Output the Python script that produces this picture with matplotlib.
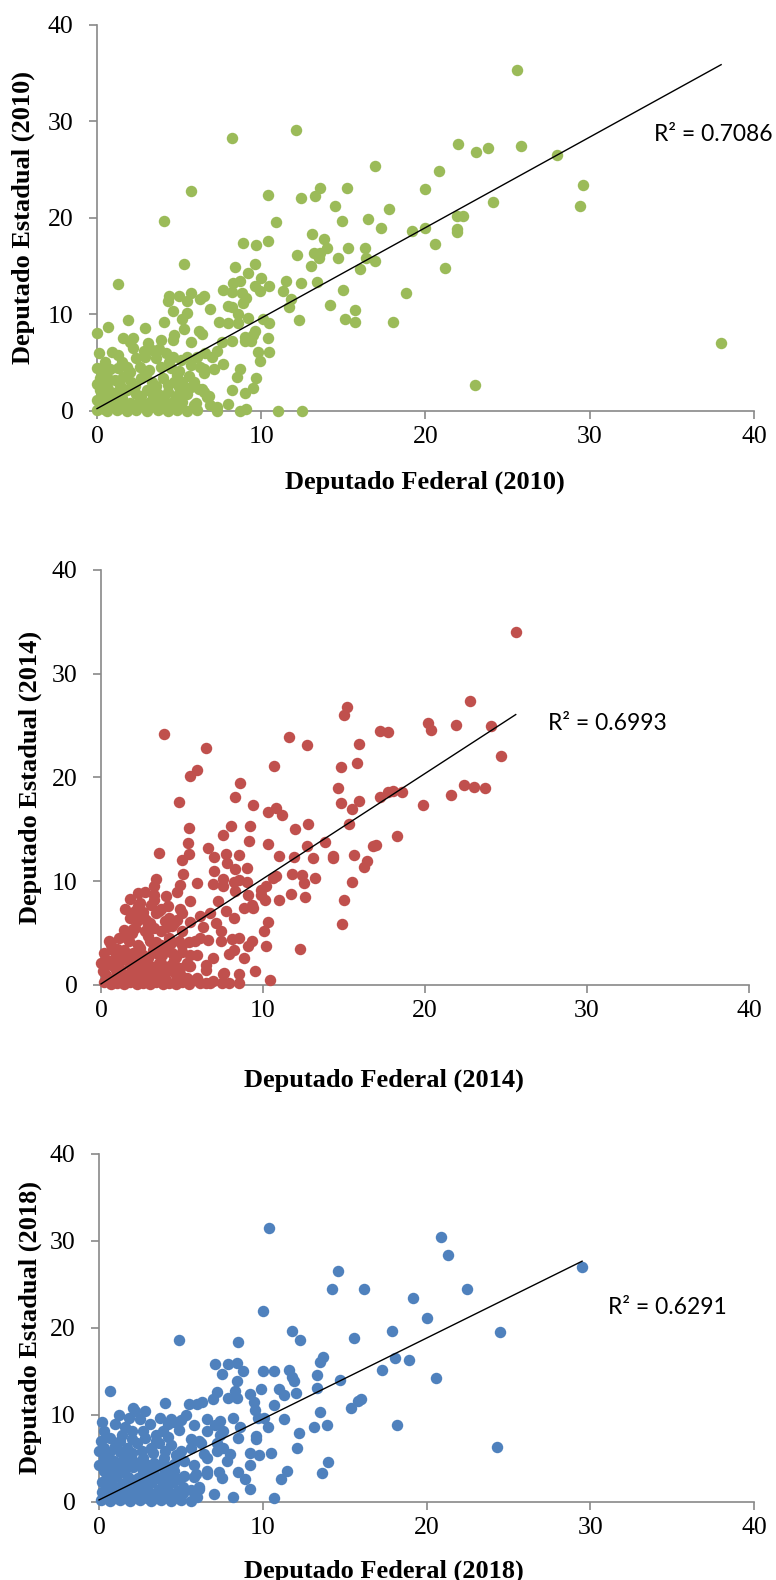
import matplotlib
matplotlib.use("Agg")
import matplotlib.pyplot as plt
import numpy as np

plt.rcParams["font.family"] = "Liberation Serif"

# vote shares per municipality: (deputado federal, deputado estadual)
pts_2010 = [
    (25.6, 35.3), (12.1, 29.1), (8.2, 28.3), (22.0, 27.7), (23.1, 26.8), (23.8, 27.2), (25.8, 27.5), (28.0, 26.5),
    (16.9, 25.4), (20.8, 24.9), (29.6, 23.4), (5.7, 22.8), (10.4, 22.4), (12.4, 22.1), (13.3, 22.3), (13.6, 23.1),
    (15.2, 23.1), (20.0, 23.0), (24.1, 21.7), (29.4, 21.2), (14.5, 21.2), (17.8, 20.9), (4.1, 19.7), (10.9, 19.6),
    (14.9, 19.7), (16.5, 19.9), (17.3, 19.0), (19.2, 18.7), (20.0, 19.0), (21.9, 20.2), (22.3, 20.2), (21.9, 18.9),
    (21.9, 18.5), (13.1, 18.3), (13.8, 17.8), (8.9, 17.4), (9.7, 17.2), (10.4, 17.6), (14.0, 16.9), (15.3, 16.9),
    (16.3, 16.9), (12.2, 16.2), (13.2, 16.4), (13.6, 16.4), (13.5, 15.8), (14.7, 15.9), (16.4, 15.9), (16.9, 15.5),
    (20.6, 17.3), (21.2, 14.8), (16.0, 14.7), (13.0, 15.0), (5.3, 15.2), (8.4, 14.9), (9.6, 15.2), (9.2, 14.3),
    (10.0, 13.8), (1.3, 13.2), (8.7, 13.5), (8.3, 13.3), (9.6, 13.0), (10.5, 13.0), (11.5, 13.5), (12.4, 13.3),
    (13.4, 13.4), (11.3, 12.4), (15.0, 12.5), (18.8, 12.2), (7.7, 12.5), (8.2, 12.3), (8.8, 12.2), (9.9, 12.4),
    (5.7, 12.2), (6.5, 11.9), (4.4, 11.9), (5.0, 11.9), (4.3, 11.4), (5.5, 11.4), (6.3, 11.6), (9.1, 11.7),
    (8.9, 11.2), (11.8, 11.6), (11.7, 10.8), (14.2, 11.0), (15.7, 10.5), (4.6, 10.4), (6.9, 10.6), (8.0, 10.9),
    (8.2, 10.8), (5.5, 10.1), (8.6, 10.0), (5.2, 9.5), (1.9, 9.4), (4.1, 9.2), (7.4, 9.2), (8.0, 9.1),
    (8.6, 9.1), (9.2, 9.6), (10.1, 9.5), (10.5, 9.1), (12.3, 9.4), (15.1, 9.5), (15.7, 9.2), (18.0, 9.2),
    (0.0, 8.1), (0.7, 8.75), (2.9, 8.6), (5.3, 8.5), (6.2, 8.3), (6.4, 8.0), (4.7, 7.9), (9.6, 8.3),
    (9.5, 7.9), (9.0, 7.7), (9.4, 7.3), (10.4, 7.6), (1.6, 7.6), (2.2, 7.6), (2.0, 7.1), (4.6, 7.4),
    (5.7, 7.1), (7.6, 7.1), (8.2, 7.2), (9.0, 7.3), (0.9, 6.1), (9.8, 6.1), (10.5, 6.1), (7.7, 4.9),
    (9.9, 5.2), (8.7, 4.3), (8.5, 3.5), (9.7, 3.4), (7.1, 4.3), (6.5, 4.3), (5.9, 3.0), (8.2, 2.2),
    (9.5, 2.4), (9.0, 1.9), (23.0, 2.7), (38.0, 7.0), (11.0, 0.0), (12.5, 0.0), (9.1, 0.2), (8.7, 0.0),
    (8.0, 0.7), (7.3, 0.0), (6.9, 0.6), (5.9, 0.6), (6.4, 2.3), (6.7, 1.4),
    (2.85, 6.2), (3.35, 6.3), (3.8, 6.4), (4.2, 6.0), (0.5, 5.1), (1.5, 5.1), (2.4, 5.5), (2.9, 5.6),
    (3.6, 5.5), (4.6, 5.6), (5.1, 5.3), (5.5, 5.6), (6.1, 5.6), (6.6, 6.0), (7.0, 5.6), (7.3, 6.2),
    (0.8, 4.3), (1.3, 4.4), (1.8, 4.6), (2.6, 4.6), (3.15, 4.25), (3.9, 4.6), (4.5, 4.4), (5.0, 4.1),
    (5.7, 4.8), (6.3, 4.6), (6.5, 3.9), (0.2, 3.4), (0.6, 3.55), (1.1, 3.2), (1.6, 3.55), (2.1, 3.0),
    (2.7, 3.4), (3.35, 3.0), (4.0, 3.4), (4.7, 3.0), (5.2, 3.0), (5.0, 2.5), (6.2, 2.3), (6.5, 2.0),
    (6.8, 1.5), (0.2, 2.2), (0.7, 2.3), (1.2, 2.0), (1.8, 2.2), (2.4, 1.8), (3.05, 2.2), (3.7, 1.8),
    (4.3, 2.0), (5.5, 1.8), (5.7, 2.5), (0.0, 1.1), (0.4, 1.3), (1.0, 0.9), (1.5, 1.3), (2.0, 0.8),
    (2.6, 1.1), (3.25, 0.9), (3.9, 1.1), (4.5, 0.8), (5.2, 0.9), (6.0, 0.8), (0.0, 0.1), (0.6, 0.0),
    (1.2, 0.1), (1.8, 0.0), (2.4, 0.1), (3.05, 0.0), (3.7, 0.1), (4.3, 0.0), (4.9, 0.1), (5.5, 0.0),
    (6.1, 0.1), (7.3, 0.4), (0.2, 0.6), (0.8, 0.4), (1.6, 0.5), (2.2, 0.4), (2.85, 0.6), (3.55, 0.4),
    (0.3, 4.5), (0.6, 2.9), (1.0, 1.6), (1.4, 2.7), (1.9, 3.9), (2.3, 2.6), (2.7, 1.5), (3.0, 3.8),
    (3.4, 1.5), (3.6, 2.6), (4.1, 1.5), (4.3, 2.7), (4.8, 1.6), (4.9, 3.7), (5.3, 2.0), (5.6, 3.6),
    (0.4, 0.2), (1.4, 0.3), (2.9, 0.3), (4.0, 0.3), (5.0, 0.5), (0.3, 1.8), (1.3, 5.8), (2.2, 6.5),
    (3.1, 7.0), (3.9, 7.4), (4.4, 5.1), (2.0, 4.0), (0.0, 2.8), (0.0, 4.5), (0.1, 6.0),
]

pts_2014 = [
    (25.6, 34.0), (15.2, 26.8), (15.0, 26.0), (22.8, 27.4), (3.9, 24.2), (6.5, 22.8), (11.6, 23.9), (12.7, 23.1),
    (15.9, 23.2), (17.2, 24.5), (17.7, 24.4), (20.2, 25.2), (20.4, 24.6), (21.9, 25.1), (24.1, 25.0), (24.7, 22.1),
    (14.8, 21.0), (15.8, 21.4), (10.7, 21.1), (5.9, 20.7), (5.5, 20.1), (8.6, 19.5), (14.6, 19.0), (22.4, 19.3),
    (23.0, 19.1), (23.7, 19.0), (21.6, 18.3), (17.7, 18.6), (18.0, 18.7), (18.6, 18.6), (17.2, 18.1), (15.9, 17.7),
    (14.8, 17.5), (15.5, 17.0), (19.9, 17.3), (4.8, 17.6), (8.3, 18.1), (9.4, 17.3), (10.3, 16.7), (10.8, 17.1),
    (11.2, 16.4), (15.3, 15.5), (5.4, 15.1), (8.0, 15.3), (9.2, 15.3), (12.0, 15.0), (12.8, 15.5), (7.5, 14.5),
    (5.35, 13.7), (9.15, 13.9), (10.3, 13.6), (13.8, 13.8), (12.7, 13.4), (16.8, 13.4), (17.0, 13.5), (18.3, 14.4),
    (3.6, 12.7), (6.6, 13.2), (5.45, 12.6), (5.0, 12.0), (7.0, 12.3), (7.7, 12.6), (8.5, 12.5), (7.8, 11.8),
    (11.0, 12.4), (11.9, 12.3), (13.1, 12.2), (14.3, 12.4), (14.3, 12.2), (15.6, 12.5), (16.4, 11.9), (16.25, 11.4),
    (5.05, 10.7), (7.0, 11.0), (8.3, 11.2), (9.0, 11.3), (11.8, 10.7), (12.4, 10.6), (13.2, 10.3), (12.5, 9.8),
    (15.5, 9.9), (3.4, 10.2), (3.3, 9.5), (4.9, 9.6), (5.9, 9.8), (6.9, 9.7), (7.5, 10.2), (7.5, 9.5),
    (8.2, 9.9), (8.5, 10.1), (9.0, 9.9), (8.3, 9.1), (9.1, 8.7), (9.9, 9.2), (10.2, 9.5), (10.6, 10.3),
    (10.8, 10.5), (9.9, 8.7), (10.1, 8.2), (11.0, 8.2), (11.7, 8.8), (12.6, 8.5), (15.0, 8.2), (14.9, 5.9),
    (2.3, 8.9), (2.7, 9.0), (3.3, 8.7), (1.8, 8.3), (2.4, 7.9), (4.7, 9.0), (5.5, 8.1), (7.2, 8.1),
    (1.5, 7.3), (2.1, 7.1), (3.1, 7.7), (3.7, 7.3), (4.15, 7.6), (4.9, 7.3), (1.8, 6.5), (2.6, 6.6),
    (3.4, 6.9), (4.2, 6.5), (5.0, 6.9), (6.1, 6.6), (6.7, 6.9), (7.7, 7.1), (8.2, 6.5), (8.8, 7.4),
    (9.4, 7.4), (9.3, 7.7), (10.3, 6.1), (10.05, 5.2), (2.1, 5.5), (2.9, 5.8), (3.7, 5.2), (4.5, 6.0),
    (5.5, 6.1), (6.3, 5.6), (7.1, 6.0), (7.4, 5.2), (8.1, 4.4), (8.5, 4.5), (9.3, 4.2), (9.05, 3.8),
    (10.2, 3.8), (8.2, 3.4), (8.8, 2.6), (7.9, 3.0), (12.3, 3.45), (9.5, 1.3), (10.4, 0.5), (8.5, 1.1),
    (7.6, 1.2), (6.9, 2.6), (6.5, 1.45), (5.9, 2.9), (5.8, 0.5), (6.5, 0.15), (6.9, 0.4), (7.45, 0.15),
    (7.9, 0.15), (8.5, 0.15), (0.5, 4.2), (0.2, 3.1), (1.1, 4.5), (1.0, 3.5), (1.7, 4.2), (2.3, 3.9),
    (3.0, 4.2), (3.7, 3.9), (4.3, 4.0), (5.0, 3.9), (5.8, 4.2), (6.6, 4.35), (7.4, 4.2), (0.5, 2.3),
    (1.3, 2.6), (2.1, 2.3), (2.9, 2.6), (3.7, 2.1), (4.5, 2.4), (5.3, 2.1), (0.1, 1.3), (0.9, 1.45),
    (1.7, 1.1), (2.5, 1.45), (3.3, 1.1), (4.1, 1.35), (4.9, 1.1), (0.2, 0.3), (1.0, 0.15), (1.8, 0.25),
    (2.6, 0.15), (3.4, 0.25), (4.2, 0.15), (5.0, 0.25), (5.4, 1.8), (1.4, 5.3), (0.75, 3.4), (3.4, 3.1),
    (2.6, 7.0), (3.6, 7.1), (2.2, 6.2), (2.8, 6.3), (3.95, 6.2), (4.7, 6.3), (2.0, 5.4), (2.7, 5.2),
    (3.3, 5.5), (4.4, 5.7), (5.0, 5.2), (1.6, 4.5), (2.9, 4.7), (3.4, 4.1), (4.2, 4.5), (4.8, 4.2),
    (5.4, 4.1), (6.1, 4.5), (0.9, 2.9), (1.4, 3.4), (2.0, 3.1), (2.6, 2.9), (3.2, 3.4), (3.75, 2.9),
    (4.4, 3.1), (5.0, 3.2), (5.5, 2.9), (0.0, 2.1), (0.6, 1.9), (1.2, 2.3), (1.8, 1.9), (2.4, 2.1),
    (3.0, 1.8), (3.6, 2.1), (4.3, 1.9), (4.9, 1.6), (5.5, 1.8), (6.5, 1.9), (7.5, 1.1), (0.3, 1.0),
    (0.9, 0.8), (1.5, 1.0), (2.1, 0.7), (2.7, 1.0), (3.3, 0.8), (3.95, 0.7), (4.6, 1.0), (5.3, 0.7),
    (5.9, 0.65), (0.6, 0.1), (1.4, 0.05), (2.2, 0.1), (3.0, 0.05), (3.8, 0.1), (4.6, 0.05), (5.4, 0.1),
    (6.1, 0.15), (6.7, 0.15),
    (1.2, 1.5), (2.0, 1.4), (2.8, 1.4), (3.6, 1.5), (4.4, 1.4), (1.6, 2.9), (2.4, 3.6), (3.9, 3.5),
    (4.6, 2.7), (0.6, 3.9), (1.9, 5.0), (3.0, 6.0), (4.1, 5.6), (2.3, 7.6), (3.3, 8.2), (4.0, 8.6),
    (0.4, 0.6), (1.4, 0.6), (2.6, 0.5), (3.7, 0.6), (4.8, 0.5),
]

pts_2018 = [
    (10.4, 31.5), (20.9, 30.5), (21.3, 28.4), (29.5, 27.0), (14.6, 26.5), (14.2, 24.5), (16.2, 24.5), (22.5, 24.5),
    (19.2, 23.4), (10.0, 22.0), (20.0, 21.1), (11.8, 19.7), (12.3, 18.6), (15.6, 18.8), (17.9, 19.6), (24.5, 19.5),
    (4.9, 18.6), (8.5, 18.4), (13.7, 16.6), (13.5, 16.1), (18.1, 16.5), (18.9, 16.3), (17.3, 15.2), (7.1, 15.8),
    (7.9, 15.8), (8.4, 16.0), (7.5, 14.7), (8.8, 15.1), (10.0, 15.1), (10.7, 15.1), (11.6, 15.2), (11.8, 14.4),
    (11.9, 13.9), (13.3, 14.6), (14.7, 14.0), (20.6, 14.2), (8.4, 13.9), (0.7, 12.8), (7.2, 12.6), (8.3, 12.7),
    (9.9, 13.0), (11.0, 13.0), (11.3, 12.3), (12.0, 12.5), (13.3, 13.1), (9.2, 12.4), (7.9, 11.9), (6.96, 11.8),
    (5.5, 11.2), (6.3, 11.5), (4.0, 11.4), (10.7, 11.1), (9.5, 10.6), (16.0, 11.8), (15.8, 11.6), (15.4, 10.8),
    (13.5, 10.3), (2.1, 10.8), (2.8, 10.5), (1.2, 10.0), (1.85, 9.6), (3.7, 9.7), (5.3, 10.0), (6.6, 9.5),
    (7.4, 9.3), (8.2, 9.7), (9.7, 9.7), (10.1, 9.7), (11.3, 9.5), (10.3, 8.6), (13.9, 8.9), (13.1, 8.6),
    (18.2, 8.8), (12.2, 7.9), (12.1, 6.2), (24.3, 6.3), (14.0, 4.6), (13.6, 3.3), (11.5, 3.6), (11.1, 2.6),
    (10.7, 0.4), (9.2, 1.45), (8.2, 0.6), (9.2, 5.6), (9.8, 5.4), (10.5, 5.6), (9.6, 7.6), (9.6, 7.2),
    (8.5, 7.4), (8.5, 3.4), (9.2, 4.3), (8.9, 2.6), (7.5, 2.7), (7.3, 3.4), (7.0, 0.9), (6.1, 1.45),
    (5.9, 3.2), (6.6, 3.2), (8.0, 5.5), (7.6, 6.2), (7.4, 7.7), (8.6, 8.6), (5.8, 8.8), (4.9, 8.3),
    (4.2, 9.0), (3.5, 7.7), (2.7, 8.1), (4.4, 9.5), (6.6, 8.1), (6.1, 7.0), (6.6, 5.1), (5.6, 6.2),
    (7.2, 6.8),
    (6.0, 11.3), (2.2, 10.4), (4.6, 9.2), (5.0, 9.4), (2.0, 8.1), (3.9, 8.1), (5.6, 7.2), (6.2, 6.8),
    (0.3, 6.2), (1.0, 6.4), (1.7, 6.2), (2.3, 6.8), (3.15, 6.2), (3.66, 6.8), (4.4, 6.6), (5.0, 5.9),
    (6.4, 5.5), (7.8, 4.7), (9.45, 11.5), (8.4, 11.9), (7.1, 8.9), (7.6, 8.1), (7.2, 5.9),
    (0.3, 5.1), (0.9, 4.7), (1.5, 5.1), (2.1, 4.7), (2.7, 5.1), (3.35, 4.5), (3.96, 5.1), (4.6, 4.4),
    (5.2, 4.7), (5.8, 4.2), (6.6, 3.6), (0.3, 3.6), (0.9, 3.8), (1.5, 3.4), (2.1, 4.0), (2.7, 3.4),
    (3.35, 3.8), (3.96, 3.2), (4.6, 3.6), (5.2, 3.0), (5.8, 2.9), (6.1, 1.7), (0.2, 2.3), (0.8, 2.5),
    (1.4, 2.1), (2.0, 2.5), (2.6, 2.1), (3.25, 2.3), (3.9, 1.9), (4.5, 2.3), (5.1, 1.7), (5.6, 1.35),
    (0.2, 1.2), (0.8, 0.8), (1.4, 1.2), (2.0, 0.8), (2.6, 1.2), (3.25, 0.8), (3.9, 1.05), (4.5, 0.7),
    (5.1, 1.0), (6.0, 0.6), (0.1, 0.2), (0.7, 0.15), (1.3, 0.2), (1.9, 0.15), (2.5, 0.2), (3.15, 0.15),
    (3.76, 0.2), (4.4, 0.15), (5.0, 0.2), (5.6, 0.15), (0.0, 4.2), (0.0, 5.9), (0.1, 7.0), (0.7, 7.4),
    (1.4, 7.7), (0.3, 8.1),
    (0.5, 3.0), (1.1, 3.0), (1.8, 2.9), (2.4, 2.8), (3.0, 3.0), (3.6, 2.7), (4.2, 2.8), (4.9, 2.6),
    (0.5, 1.7), (1.1, 1.6), (1.7, 1.6), (2.3, 1.6), (2.9, 1.6), (3.6, 1.4), (4.2, 1.4), (4.8, 1.3),
    (0.5, 4.3), (1.2, 4.3), (1.8, 4.4), (2.4, 4.3), (3.0, 4.2), (3.7, 4.2), (4.3, 4.0), (0.6, 5.6),
    (1.3, 5.7), (2.0, 5.6), (2.6, 5.8), (3.3, 5.6), (4.0, 5.8), (4.7, 5.4), (0.5, 0.5), (1.0, 0.5),
    (1.6, 0.5), (2.3, 0.5), (2.9, 0.5), (3.5, 0.5), (4.2, 0.5), (4.8, 0.5), (1.3, 7.0), (2.0, 7.2),
    (2.8, 7.3), (3.5, 7.0), (4.2, 7.5), (0.2, 9.2), (1.0, 9.0), (1.6, 8.6), (2.5, 9.5), (3.1, 9.0),
]

years = ["2010", "2014", "2018"]
colors = ["#9BBB59", "#C0504D", "#4F81BD"]
# linear trend lines (slope, intercept)
trends = [(0.938, 0.24), (1.014, 0.10), (0.930, 0.23)]
r2_texts = ["R² = 0.7086", "R² = 0.6993", "R² = 0.6291"]
r2_pos = [(33.9, 28.7), (27.6, 25.2), (31.1, 22.4)]
ticks = [0, 10, 20, 30, 40]

# axes rectangles in figure fraction, plus label centres in axes fraction
rects = [
    [0.1250, 0.7399, 0.8466, 0.2443],
    [0.1302, 0.3766, 0.8350, 0.2627],
    [0.1276, 0.0494, 0.8441, 0.2203],
]
xlab_xy = [(0.499, -0.184), (0.436, -0.229), (0.435, -0.198)]
ylab_x = [-0.112, -0.109, -0.105]

gray = "#898989"

fig = plt.figure(figsize=(7.76, 15.80), dpi=100)

for i, pts in enumerate([pts_2010, pts_2014, pts_2018]):
    data = np.array(pts)
    x, y = data[:, 0], data[:, 1]
    ax = fig.add_axes(rects[i])

    ax.scatter(x, y, s=68, color=colors[i], linewidths=0, zorder=3, clip_on=False)

    m, b = trends[i]
    xs = np.array([x.min(), x.max()])
    ax.plot(xs, m * xs + b, color="black", lw=1.0, zorder=4, clip_on=False)

    ax.text(r2_pos[i][0], r2_pos[i][1], r2_texts[i], fontsize=16.5, family="Lato",
            ha="left", va="center", clip_on=False)

    ax.set_xlim(0, 40)
    ax.set_ylim(0, 40)
    ax.set_xticks(ticks)
    ax.set_yticks(ticks)
    for sp in ["top", "right"]:
        ax.spines[sp].set_visible(False)
    for sp in ["left", "bottom"]:
        ax.spines[sp].set_color(gray)
        ax.spines[sp].set_linewidth(1.2)
    ax.tick_params(axis="both", direction="out", length=6, width=1.2, color=gray,
                   labelsize=18.5, labelcolor="black")
    ax.tick_params(axis="y", pad=11)
    ax.tick_params(axis="x", pad=5)

    ax.text(xlab_xy[i][0], xlab_xy[i][1], "Deputado Federal (%s)" % years[i],
            transform=ax.transAxes, ha="center", va="center",
            fontsize=19, fontweight="bold")
    ax.text(ylab_x[i], 0.5, "Deputado Estadual (%s)" % years[i],
            transform=ax.transAxes, ha="center", va="center", rotation=90,
            fontsize=19, fontweight="bold")

fig.savefig("out.png", dpi=100)
